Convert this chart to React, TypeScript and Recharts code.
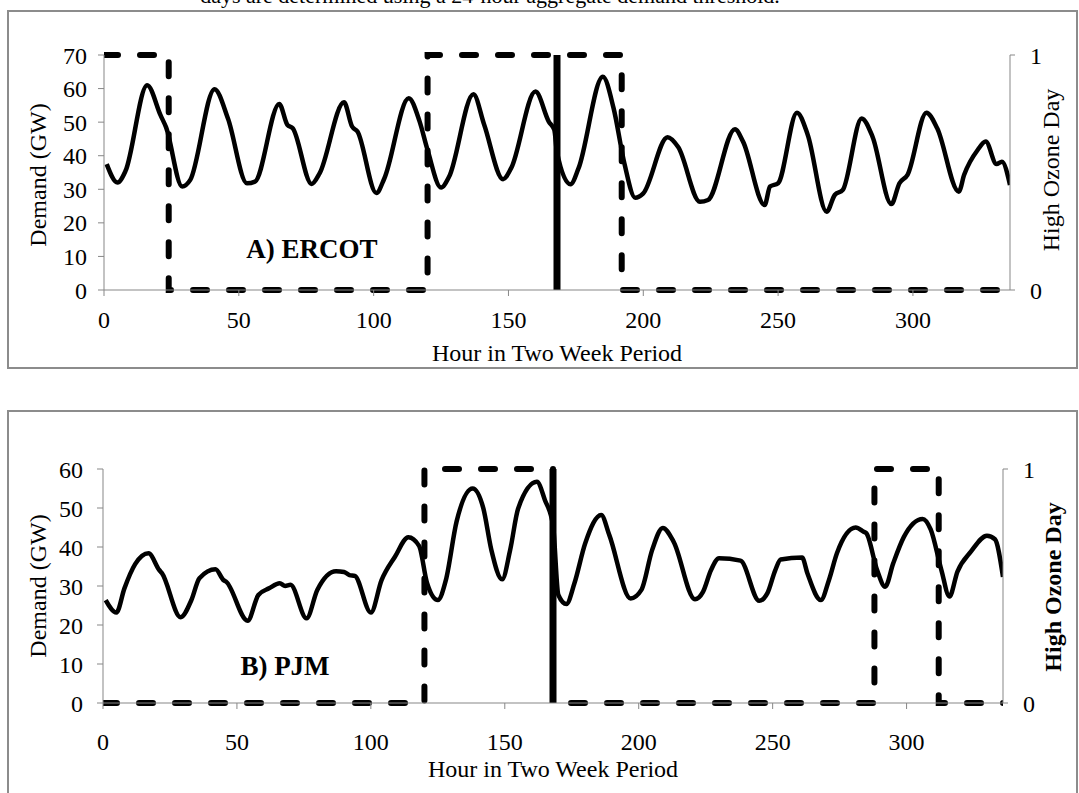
import { Line, LineChart, ReferenceLine, XAxis, YAxis } from "recharts";

const FONT = '"Liberation Serif", "Times New Roman", Times, serif';
const AXIS_GREY = "#878787";

// x axis
const HOUR_TICKS = [0, 50, 100, 150, 200, 250, 300];
const HOUR_DOMAIN: [number, number] = [0, 336];
const WEEK_SPLIT_HOUR = 168;

// high ozone flag per day (stepAfter from each day's start hour, last entry closes the period)
const DAY_START_HOURS = [0, 24, 48, 72, 96, 120, 144, 168, 192, 216, 240, 264, 288, 312, 336];
const ERCOT_HIGH_OZONE = [1, 0, 0, 0, 0, 1, 1, 1, 0, 0, 0, 0, 0, 0, 0];
const PJM_HIGH_OZONE = [0, 0, 0, 0, 0, 1, 1, 0, 0, 0, 0, 0, 1, 0, 0];

// ERCOT hourly demand (GW), sampled at turning points
const ERCOT_HOURS = [
  1, 5, 8, 16, 21, 23, 29, 32, 41, 46, 53, 56, 65, 68, 70, 77, 80, 89, 92, 94,
  101, 104, 113, 117, 120, 125, 128, 137, 141, 148, 151, 160, 165, 167, 168, 173, 176, 185, 189, 193,
  197, 200, 209, 213, 221, 224, 234, 237, 245, 247, 250, 257, 261, 268, 271, 274, 281, 285, 292, 295,
  298, 305, 309, 317, 319, 324, 327, 331, 333, 336,
];
const ERCOT_GW = [
  37.5, 32.0, 35.5, 61.0, 52.0, 48.5, 30.8, 32.8, 59.8, 51.0, 31.8, 32.3, 55.4, 49.2, 48.2, 31.6, 34.8, 55.9, 48.7, 47.2,
  28.9, 33.3, 57.1, 50.3, 41.7, 30.5, 33.8, 58.3, 49.2, 33.0, 36.3, 59.1, 50.1, 47.7, 41.0, 31.5, 36.3, 63.5, 54.1, 37.7,
  27.5, 28.8, 45.5, 42.5, 26.3, 26.8, 47.9, 44.2, 25.3, 30.8, 31.8, 52.8, 46.2, 23.3, 28.3, 29.8, 51.1, 45.7, 25.6, 31.8,
  34.3, 52.8, 48.2, 29.3, 34.3, 41.7, 44.2, 37.5, 38.2, 31.3,
];

// PJM hourly demand (GW)
const PJM_HOURS = [
  1, 5, 8, 12, 17, 21, 22, 29, 33, 36, 42, 45, 46, 54, 58, 62, 66, 68, 70, 76,
  80, 87, 90, 92, 94, 100, 104, 109, 114, 118, 121, 125, 128, 132, 138, 142, 145, 149, 152, 155,
  162, 165, 168, 170, 173, 176, 180, 186, 189, 197, 201, 205, 209, 213, 221, 224, 227, 230, 238, 245,
  248, 251, 253, 261, 263, 268, 271, 274, 281, 284, 285, 289, 292, 295, 299, 306, 309, 313, 316, 319,
  324, 330, 333, 336,
];
const PJM_GW = [
  26.4, 23.2, 29.4, 35.6, 38.4, 34.1, 33.3, 22.0, 26.4, 32.0, 34.3, 31.5, 31.1, 21.1, 27.7, 29.4, 30.7, 30.0, 30.3, 21.7,
  29.0, 33.8, 33.6, 32.8, 32.6, 23.2, 31.5, 37.5, 42.5, 40.3, 30.7, 26.4, 31.5, 46.5, 55.0, 49.9, 39.2, 31.7, 39.2, 49.9,
  56.7, 52.0, 45.6, 27.7, 25.4, 30.7, 40.9, 48.2, 43.1, 26.8, 29.0, 39.2, 44.9, 41.4, 26.6, 28.5, 34.1, 37.1, 36.5, 26.2,
  28.1, 34.1, 36.8, 37.3, 33.2, 26.4, 31.5, 38.4, 45.0, 43.9, 43.5, 34.1, 29.8, 35.8, 42.6, 47.2, 44.5, 34.1, 27.3, 33.7,
  38.8, 42.9, 42.0, 32.3,
];

const ERCOT_Y_TICKS = [0, 10, 20, 30, 40, 50, 60, 70];
const PJM_Y_TICKS = [0, 10, 20, 30, 40, 50, 60];

const demandPoints = (hours: number[], gw: number[]) => hours.map((hour, i) => ({ hour, gw: gw[i] }));
const ozonePoints = (flags: number[]) => DAY_START_HOURS.map((hour, i) => ({ hour, flag: flags[i] }));

const tickStyle = { fill: "#000", fontSize: 24, fontFamily: FONT };

interface PanelProps {
  top: number;
  height: number;
  margin: { top: number; right: number; bottom: number; left: number };
  demand: { hour: number; gw: number }[];
  ozone: { hour: number; flag: number }[];
  yTicks: number[];
  leftTickMargin: number;
  xTickMargin: number;
}

function DemandPanel(p: PanelProps) {
  const yMax = p.yTicks[p.yTicks.length - 1];
  return (
    <div style={{ position: "absolute", left: 0, top: p.top }}>
      <LineChart width={1079} height={p.height} margin={p.margin}>
        <XAxis
          type="number"
          dataKey="hour"
          domain={HOUR_DOMAIN}
          ticks={HOUR_TICKS}
          allowDataOverflow
          height={40}
          tickSize={6}
          tickMargin={p.xTickMargin}
          axisLine={{ stroke: AXIS_GREY }}
          tickLine={{ stroke: AXIS_GREY }}
          tick={tickStyle}
        />
        <YAxis
          yAxisId="demand"
          orientation="left"
          domain={[0, yMax]}
          ticks={p.yTicks}
          width={60}
          tickSize={6}
          tickMargin={p.leftTickMargin}
          axisLine={{ stroke: AXIS_GREY }}
          tickLine={{ stroke: AXIS_GREY }}
          tick={tickStyle}
        />
        <YAxis
          yAxisId="ozone"
          orientation="right"
          domain={[0, 1]}
          ticks={[0, 1]}
          width={50}
          tickSize={5}
          tickMargin={15}
          axisLine={{ stroke: AXIS_GREY }}
          tickLine={{ stroke: AXIS_GREY }}
          tick={tickStyle}
        />
        <Line
          yAxisId="demand"
          data={p.demand}
          dataKey="gw"
          type="monotone"
          stroke="#000"
          strokeWidth={4.5}
          dot={false}
          activeDot={false}
          isAnimationActive={false}
        />
        <Line
          yAxisId="ozone"
          data={p.ozone}
          dataKey="flag"
          type="stepAfter"
          stroke="#000"
          strokeWidth={6}
          strokeDasharray="14 22"
          strokeLinecap="round"
          dot={false}
          activeDot={false}
          isAnimationActive={false}
        />
        <ReferenceLine yAxisId="demand" x={WEEK_SPLIT_HOUR} stroke="#000" strokeWidth={7} />
      </LineChart>
    </div>
  );
}

export default function App() {
  const frame = { position: "absolute" as const, boxSizing: "border-box" as const, border: "2px solid #8c8c8c", left: 7, width: 1071 };
  return (
    <div style={{ position: "absolute", left: 0, top: 0, width: 1079, height: 793, overflow: "hidden", background: "#fff", fontFamily: FONT }}>
      <div style={{ ...frame, top: 10, height: 359 }} />
      <div style={{ ...frame, top: 410, height: 420 }} />

      <DemandPanel
        top={0}
        height={368}
        margin={{ top: 55, right: 19, bottom: 38, left: 44 }}
        demand={demandPoints(ERCOT_HOURS, ERCOT_GW)}
        ozone={ozonePoints(ERCOT_HIGH_OZONE)}
        yTicks={ERCOT_Y_TICKS}
        leftTickMargin={11}
        xTickMargin={15}
      />
      <DemandPanel
        top={410}
        height={383}
        margin={{ top: 59, right: 26, bottom: 50, left: 43 }}
        demand={demandPoints(PJM_HOURS, PJM_GW)}
        ozone={ozonePoints(PJM_HIGH_OZONE)}
        yTicks={PJM_Y_TICKS}
        leftTickMargin={14}
        xTickMargin={24}
      />

      <svg width={1079} height={793} style={{ position: "absolute", left: 0, top: 0, pointerEvents: "none" }} fontFamily={FONT} fill="#000">
        <text x={490} y={3} fontSize={22} textAnchor="middle">
          days are determined using a 24-hour aggregate demand threshold.
        </text>

        <text transform="translate(46,175) rotate(-90)" fontSize={24} textAnchor="middle">Demand (GW)</text>
        <text transform="translate(1059,170) rotate(-90)" fontSize={24} textAnchor="middle">High Ozone Day</text>
        <text x={557} y={361} fontSize={24} textAnchor="middle">Hour in Two Week Period</text>
        <text x={312} y={258} fontSize={27} fontWeight="bold" textAnchor="middle">A) ERCOT</text>

        <text transform="translate(46,586) rotate(-90)" fontSize={24} textAnchor="middle">Demand (GW)</text>
        <text transform="translate(1061,587) rotate(-90)" fontSize={24} fontWeight="bold" textAnchor="middle">High Ozone Day</text>
        <text x={553} y={777} fontSize={24} textAnchor="middle">Hour in Two Week Period</text>
        <text x={285} y={675} fontSize={27} fontWeight="bold" textAnchor="middle">B) PJM</text>
      </svg>
    </div>
  );
}
